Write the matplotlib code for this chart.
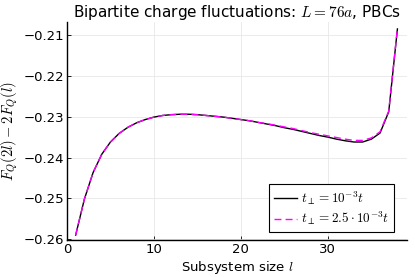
import matplotlib
matplotlib.use('Agg')
import matplotlib.pyplot as plt
import numpy as np

plt.rcParams['mathtext.fontset'] = 'cm'
plt.rcParams['font.family'] = 'DejaVu Sans'

# subsystem sizes
l = np.arange(1, 39)

# t_perp = 1e-3 t
fq_a = [-0.2590, -0.2502, -0.2437, -0.2392, -0.2362, -0.2341, -0.2326, -0.2315,
        -0.2307, -0.2301, -0.2297, -0.2295, -0.2294, -0.2294, -0.2295, -0.2297,
        -0.2299, -0.2301, -0.2304, -0.2307, -0.2310, -0.2314, -0.2318, -0.2322,
        -0.2327, -0.2331, -0.2336, -0.2341, -0.2346, -0.2350, -0.2355, -0.2359,
        -0.2362, -0.2362, -0.2355, -0.2340, -0.2288, -0.2085]

# t_perp = 2.5e-3 t
fq_b = [-0.2590, -0.2502, -0.2437, -0.2392, -0.2362, -0.2341, -0.2326, -0.2315,
        -0.2307, -0.2301, -0.2297, -0.2295, -0.2294, -0.2294, -0.2295, -0.2297,
        -0.2299, -0.2301, -0.2304, -0.2307, -0.2310, -0.2314, -0.2317, -0.2321,
        -0.2325, -0.2329, -0.2334, -0.2339, -0.2343, -0.2347, -0.2351, -0.2355,
        -0.2358, -0.2358, -0.2352, -0.2337, -0.2286, -0.2083]

labels = [r'$t_\perp = 10^{-3}t$', r'$t_\perp = 2.5 \cdot 10^{-3}t$']

fig = plt.figure(figsize=(4.15, 2.77), dpi=100)
ax = fig.add_axes([0.1614, 0.1336, 0.8193, 0.787])

ax.plot(l, fq_a, color='black', lw=1.0, label=labels[0])
ax.plot(l, fq_b, color='magenta', lw=1.0, ls=(0, (5, 3)), label=labels[1])

ax.set_xlim(0, 39.1)
ax.set_ylim(-0.2602, -0.2068)
ax.set_xticks([0, 10, 20, 30])
ax.set_yticks([-0.26, -0.25, -0.24, -0.23, -0.22, -0.21])
ax.grid(True, color='#e8e8e8', lw=0.6)
ax.set_axisbelow(True)

for s in ['top', 'right']:
    ax.spines[s].set_visible(False)
ax.spines['left'].set_linewidth(1.0)
ax.spines['bottom'].set_linewidth(1.0)
ax.tick_params(direction='in', length=3, width=0.6, labelsize=9.5, pad=2)

ax.set_title(r'Bipartite charge fluctuations: $L = 76a$, PBCs', fontsize=11, pad=3)
ax.set_xlabel(r'Subsystem size $l$', fontsize=9.5, labelpad=2.5)
ax.set_ylabel(r'$F_Q(2l) - 2F_Q(l)$', fontsize=10.5, labelpad=2.5)

leg = ax.legend(loc='lower right', fontsize=9.5, handlelength=1.8, handletextpad=0.3,
                borderpad=0.35, labelspacing=0.25, fancybox=False, framealpha=1,
                edgecolor='black', borderaxespad=0.6, bbox_to_anchor=(0.985, 0.0))
leg.get_frame().set_linewidth(0.8)

fig.savefig('out.png', dpi=100)
